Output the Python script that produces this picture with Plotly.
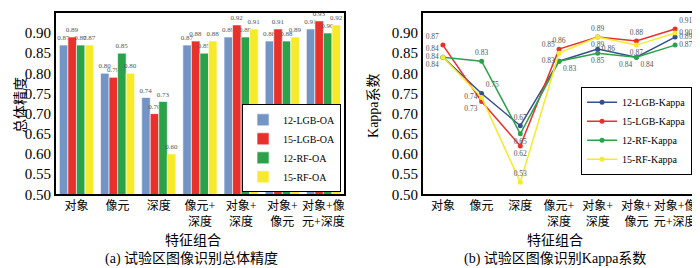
import plotly.graph_objects as go

categories = ["对象", "像元", "深度", "像元+<br>深度", "对象+<br>深度", "对象+<br>像元", "对象+像<br>元+深度"]

oa_names = ["12-LGB-OA", "15-LGB-OA", "12-RF-OA", "15-RF-OA"]
oa_12_lgb = [0.87, 0.80, 0.74, 0.87, 0.89, 0.88, 0.91]
oa_15_lgb = [0.89, 0.79, 0.70, 0.88, 0.92, 0.91, 0.93]
oa_12_rf = [0.87, 0.85, 0.73, 0.85, 0.89, 0.88, 0.90]
oa_15_rf = [0.87, 0.80, 0.60, 0.88, 0.91, 0.89, 0.92]

kappa_names = ["12-LGB-Kappa", "15-LGB-Kappa", "12-RF-Kappa", "15-RF-Kappa"]
kappa_12_lgb = [0.84, 0.75, 0.67, 0.83, 0.86, 0.84, 0.89]
kappa_15_lgb = [0.87, 0.73, 0.62, 0.86, 0.89, 0.88, 0.91]
kappa_12_rf = [0.84, 0.83, 0.65, 0.83, 0.85, 0.84, 0.87]
kappa_15_rf = [0.84, 0.74, 0.53, 0.85, 0.89, 0.87, 0.90]

y_ticks = [0.50, 0.55, 0.60, 0.65, 0.70, 0.75, 0.80, 0.85, 0.90, 0.95]

bar_colors = ["#7295C6", "#E8312B", "#2BA24A", "#F6EA2A"]
line_colors = ["#34508E", "#E8312B", "#2BA24A", "#F6EA2A"]

kappa_pos = [
    ["top left", "top right", "top center", "bottom right", "middle right", "bottom left", "middle right"],
    ["top left", "bottom left", "bottom center", "top center", "top center", "top center", "top right"],
    ["middle left", "top center", "bottom center", "middle left", "bottom center", "bottom right", "middle right"],
    ["bottom left", "middle left", "top center", "top left", "bottom center", "bottom center", "middle right"],
]

W, H = 700, 268
SERIF = "Liberation Serif, Times New Roman, serif"
CJK = "Liberation Serif, Noto Sans CJK SC, serif"

fig = go.Figure()

oa_series = [oa_12_lgb, oa_15_lgb, oa_12_rf, oa_15_rf]
for name, vals, col in zip(oa_names, oa_series, bar_colors):
    fig.add_trace(go.Bar(
        x=categories, y=vals, name=name,
        marker=dict(color=col, line=dict(color="white", width=0.6)),
        text=[f"{v:.2f}" for v in vals], textposition="outside",
        textfont=dict(family=SERIF, size=7, color="#555555"),
        textangle=0, cliponaxis=False, constraintext="none",
        xaxis="x", yaxis="y", legend="legend",
    ))

kappa_series = [kappa_12_lgb, kappa_15_lgb, kappa_12_rf, kappa_15_rf]
for name, vals, col, pos in zip(kappa_names, kappa_series, line_colors, kappa_pos):
    fig.add_trace(go.Scatter(
        x=categories, y=vals, name=name, mode="lines+markers+text",
        line=dict(color=col, width=1.5),
        marker=dict(color=col, size=5),
        text=[f"{v:.2f}" for v in vals], textposition=pos,
        textfont=dict(family=SERIF, size=7.5, color="#555555"),
        cliponaxis=False,
        xaxis="x2", yaxis="y2", legend="legend2",
    ))

def px(x):
    return x / W

def py(y):
    return 1 - y / H

axis_common = dict(showline=True, linecolor="black", linewidth=1.5, mirror=True,
                   showgrid=False, zeroline=False, ticks="")

fig.update_layout(
    width=W, height=H, margin=dict(l=0, r=0, t=0, b=0),
    paper_bgcolor="white", plot_bgcolor="white",
    barmode="group", bargap=0.17, bargroupgap=0.0,
    font=dict(family=CJK, color="black"),
    xaxis=dict(domain=[px(48), px(337)], type="category", range=[-0.5, 6.5],
               tickangle=0, tickfont=dict(family=CJK, size=12), anchor="y", **axis_common),
    yaxis=dict(domain=[py(192), py(5)], range=[0.5, 0.95], tickvals=y_ticks,
               tickformat=".2f", tickfont=dict(family=SERIF, size=15), anchor="x",
               **axis_common),
    xaxis2=dict(domain=[px(416), px(688)], type="category", range=[-0.52, 6.49],
                tickangle=0, tickfont=dict(family=CJK, size=12), anchor="y2", **axis_common),
    yaxis2=dict(domain=[py(192), py(5)], range=[0.5, 0.95], tickvals=y_ticks,
                tickformat=".2f", tickfont=dict(family=SERIF, size=15), anchor="x2",
                **axis_common),
    legend=dict(x=px(334), y=py(190), xanchor="right", yanchor="bottom",
                bgcolor="white", bordercolor="black", borderwidth=1,
                font=dict(family=SERIF, size=10), itemwidth=30,
                tracegroupgap=0),
    legend2=dict(x=px(686), y=py(172), xanchor="right", yanchor="bottom",
                 bgcolor="white", bordercolor="black", borderwidth=1,
                 font=dict(family=SERIF, size=10), itemwidth=30,
                 tracegroupgap=0),
    showlegend=True,
)

annots = [
    dict(text="总体精度", x=px(12), y=py(100), textangle=-90, size=14),
    dict(text="Kappa系数", x=px(366), y=py(100), textangle=-90, size=14),
    dict(text="特征组合", x=px(186), y=py(240), textangle=0, size=14),
    dict(text="特征组合", x=px(549), y=py(240), textangle=0, size=14),
    dict(text="(a) 试验区图像识别总体精度", x=px(184), y=py(259), textangle=0, size=14),
    dict(text="(b) 试验区图像识别Kappa系数", x=px(549), y=py(259), textangle=0, size=14),
]
for a in annots:
    fig.add_annotation(text=a["text"], x=a["x"], y=a["y"], xref="paper", yref="paper",
                       xanchor="center", yanchor="middle", showarrow=False,
                       textangle=a["textangle"], font=dict(family=CJK, size=a["size"], color="black"))

fig.write_html("out.html")
